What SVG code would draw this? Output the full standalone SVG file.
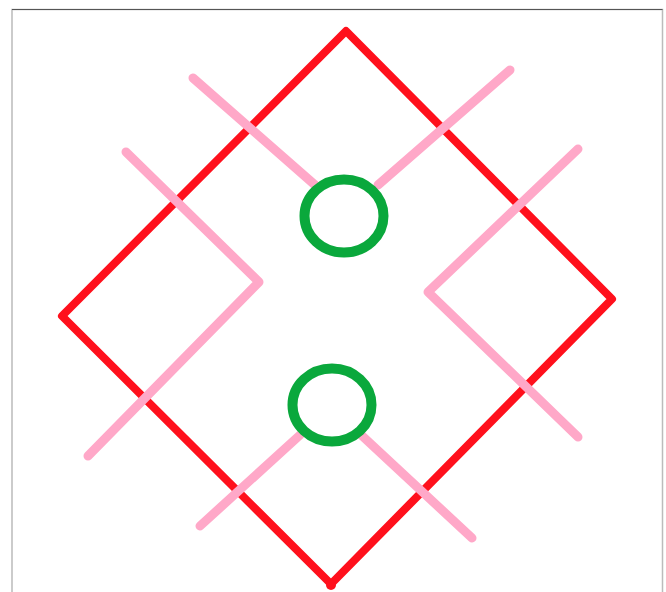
<svg xmlns="http://www.w3.org/2000/svg" width="666" height="592" viewBox="0 0 666 592">
<style>
.red{fill:none;stroke:#ff101c;stroke-width:8;stroke-linejoin:round;stroke-linecap:round}
.pink{fill:none;stroke:#ffa8c8;stroke-width:9;stroke-linejoin:round;stroke-linecap:round}
.green{fill:none;stroke:#0aa83c;stroke-width:10}
</style>
<rect x="0" y="0" width="666" height="592" fill="#fff"/>
<path d="M12 592 V9.5 H662.5 V592" fill="none" stroke="#bbb" stroke-width="1.5"/>
<line x1="12" y1="9.5" x2="662.5" y2="9.5" stroke="#555" stroke-width="1.2"/>
<g id="diamond"><path class="red" d="M346 31 L612 299 L331 584 L62 316 Z"/><circle cx="331" cy="585" r="5" fill="#ff101c"/></g>
<g id="connectors">
<path class="pink" d="M193 78 L315 185"/>
<path class="pink" d="M510 70 L378 185"/>
<path class="pink" d="M126 152 L259 282 L88 456"/>
<path class="pink" d="M578 149 L428 292 L578 437"/>
<path class="pink" d="M200 526 L300 435"/>
<path class="pink" d="M358 432 L472 538"/>
</g>
<g id="circle-top"><ellipse class="green" cx="344" cy="216" rx="39.5" ry="36.5"/></g>
<g id="circle-bottom"><ellipse class="green" cx="332" cy="405" rx="39.5" ry="36.5"/></g>
</svg>
